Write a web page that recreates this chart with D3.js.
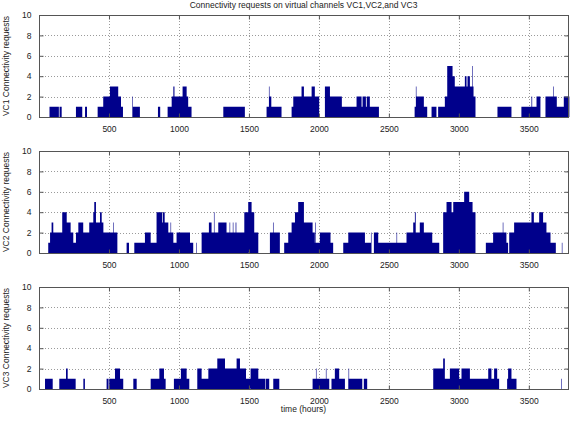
<!DOCTYPE html>
<html><head><meta charset="utf-8">
<script src="https://cdn.jsdelivr.net/npm/d3@7"></script>
<style>body{margin:0;background:#fff}svg{display:block}</style>
</head><body>
<script>
// Data: [startHour, endHour, requests]
const vc1 = [
 [75,142,1],[147,162,1],[264,309,1],[329,343,1],[419,459,1],[459,507,2],[507,566,3],[566,586,2],[586,600,1],
 [667,671,2],[671,721,1],[850,866,1],[919,948,1],[948,960,2],[960,968,3],[968,1026,2],[1026,1055,3],[1055,1066,2],[1066,1090,1],
 [1317,1471,1],[1626,1643,1],[1643,1647,3],[1647,1660,2],[1660,1733,1],[1805,1817,1],[1817,1876,2],[1876,1893,3],[1893,1948,2],
 [1948,1971,3],[1971,2002,2],[2043,2079,3],[2079,2164,2],[2164,2269,1],[2269,2305,2],[2305,2312,1],[2312,2336,2],[2336,2342,1],
 [2342,2364,2],[2364,2371,1],[2371,2429,1],[2684,2693,1],[2693,2697,3],[2697,2750,2],[2750,2774,1],[2805,2840,1],[2852,2900,1],
 [2900,2917,2],[2917,2955,5],[2955,2971,4],[2971,3043,3],[3043,3055,4],[3055,3062,3],[3062,3079,4],[3079,3096,3],[3096,3100,5],
 [3100,3105,3],[3105,3119,2],[3276,3376,1],[3447,3519,1],[3519,3524,2],[3524,3555,1],[3555,3583,2],[3619,3674,2],[3674,3678,3],
 [3678,3700,2],[3700,3750,1],[3750,3790,2]
];
const vc2 = [
 [66,79,1],[79,90,2],[90,102,3],[102,166,2],[166,198,4],[198,226,3],[226,245,2],[245,264,1],[264,281,2],[281,316,3],[316,359,2],
 [359,388,3],[388,395,4],[395,407,5],[407,436,3],[436,448,4],[448,460,3],[460,560,2],[529,533,3],[626,643,1],[681,757,1],[757,798,2],
 [798,840,1],[840,880,4],[880,885,3],[885,898,4],[898,924,3],[924,940,2],[940,944,3],[944,960,2],[960,983,1],[983,1079,2],[1079,1102,1],
 [1124,1128,1],[1162,1214,2],[1214,1233,3],[1233,1281,2],[1250,1254,4],[1281,1340,3],[1340,1467,2],[1362,1366,3],[1385,1389,3],
 [1405,1410,3],[1467,1495,4],[1495,1519,5],[1519,1538,4],[1538,1567,2],[1650,1721,2],[1672,1676,3],[1752,1781,1],[1781,1805,2],
 [1805,1829,3],[1829,1852,4],[1852,1893,5],[1893,1955,3],[1955,1971,2],[1974,1978,3],[1971,2007,1],[2007,2083,2],[2083,2102,1],
 [2174,2210,1],[2210,2329,2],[2329,2376,1],[2372,2376,2],[2393,2424,2],[2424,2626,1],[2555,2559,2],[2626,2674,2],[2674,2686,3],
 [2686,2692,4],[2692,2721,2],[2721,2750,3],[2750,2810,2],[2810,2860,1],[2888,2912,4],[2912,2948,5],[2948,2960,4],[2960,3038,5],
 [3038,3074,6],[3074,3098,5],[3098,3119,4],[3193,3245,1],[3245,3305,2],[3314,3318,3],[3305,3340,2],[3340,3352,1],[3360,3395,2],
 [3395,3519,3],[3519,3536,4],[3536,3574,3],[3574,3602,4],[3602,3626,3],[3626,3655,2],[3655,3693,1],[3736,3740,1]
];
const vc3 = [
 [43,98,1],[145,193,1],[193,205,2],[205,262,1],[317,328,1],[483,497,1],[502,543,1],[543,579,2],[579,602,1],[674,698,1],
 [798,860,1],[860,893,2],[893,905,1],[964,1014,1],[1014,1055,2],[1055,1074,1],[1131,1162,2],[1162,1210,1],[1210,1274,2],
 [1274,1329,3],[1329,1412,2],[1412,1436,3],[1436,1479,2],[1479,1512,1],[1512,1567,2],[1567,1616,1],[1620,1645,1],[1674,1717,1],
 [1955,2074,1],[1979,1983,2],[2050,2054,2],[2090,2186,1],[2114,2145,2],[2210,2310,1],[2212,2216,2],[2321,2345,1],
 [2817,2888,2],[2888,2900,3],[2900,2936,1],[2936,3002,2],[3002,3019,1],[3019,3079,2],[3079,3210,1],[3210,3233,2],[3233,3252,1],
 [3252,3274,2],[3274,3288,1],[3345,3352,1],[3352,3376,2],[3376,3412,1],[3731,3735,1]
];
const xTicks = [500,1000,1500,2000,2500,3000,3500];
const yTicks = [0,2,4,6,8,10];
const channels = ["VC1","VC2","VC3"];
const series = [vc1, vc2, vc3];
const title = "Connectivity requests on virtual channels VC1,VC2,and VC3";
const xLabel = "time (hours)";

const W = 585, H = 421;
const left = 39, right = 568, panelH = 102;
const tops = [15, 151, 287];
const font = "Liberation Sans, Arial, sans-serif";

const svg = d3.select("body").append("svg").attr("width", W).attr("height", H);
const x = d3.scaleLinear().domain([0, 3780]).range([left, right]);

svg.append("text").attr("x", (left+right)/2).attr("y", 8).attr("text-anchor","middle")
  .attr("font-family", font).attr("font-size", 8.5).attr("fill","#222").text(title);

channels.forEach((ch, i) => {
  const top = tops[i], bottom = top + panelH;
  const y = d3.scaleLinear().domain([0,10]).range([bottom, top]);
  const g = svg.append("g");
  // grid
  g.selectAll(".gx").data(xTicks).join("line")
    .attr("x1", d => Math.round(x(d))+0.5).attr("x2", d => Math.round(x(d))+0.5)
    .attr("y1", top).attr("y2", bottom)
    .attr("stroke","#9a9a9a").attr("stroke-dasharray","1,2").attr("stroke-width",1);
  g.selectAll(".gy").data(yTicks.slice(1,-1)).join("line")
    .attr("y1", d => Math.round(y(d))+0.5).attr("y2", d => Math.round(y(d))+0.5)
    .attr("x1", left).attr("x2", right)
    .attr("stroke","#9a9a9a").attr("stroke-dasharray","1,2").attr("stroke-width",1);
  // bars: all bars of a channel in one path (no seams between adjacent bars)
  const p = d3.path();
  series[i].forEach(d => p.rect(x(d[0]), y(d[2]), x(d[1]) - x(d[0]), y(0) - y(d[2])));
  g.append("path").attr("d", p.toString()).attr("fill", "#00008b");
  // box
  g.append("rect").attr("x", left+0.5).attr("y", top+0.5).attr("width", right-left).attr("height", panelH)
    .attr("fill","none").attr("stroke","#555").attr("stroke-width",1);
  // axes with inner ticks
  const ax = d3.axisBottom(x).tickValues(xTicks).tickSize(-4).tickPadding(8).tickFormat(d3.format("d"));
  const axg = g.append("g").attr("transform", `translate(0,${bottom+0.5})`).call(ax);
  const axTop = g.append("g").attr("transform", `translate(0,${top+0.5})`).call(d3.axisTop(x).tickValues(xTicks).tickSize(-4).tickFormat(""));
  const ay = d3.axisLeft(y).tickValues(yTicks).tickSize(-4).tickPadding(8);
  const ayg = g.append("g").attr("transform", `translate(${left+0.5},0)`).call(ay);
  const ayR = g.append("g").attr("transform", `translate(${right+0.5},0)`).call(d3.axisRight(y).tickValues(yTicks).tickSize(-4).tickFormat(""));
  [axg, axTop, ayg, ayR].forEach(a => {
    a.select(".domain").remove();
    a.selectAll("line").attr("stroke","#555");
    a.selectAll("text").attr("font-family", font).attr("font-size", 8.5).attr("fill","#222");
  });
  // y label
  svg.append("text").attr("transform", `translate(9,${top+panelH/2}) rotate(-90)`)
    .attr("text-anchor","middle").attr("font-family", font).attr("font-size", 8.5).attr("fill","#222")
    .text(ch + " Connectivity requests");
});

svg.append("text").attr("x", (left+right)/2).attr("y", 412).attr("text-anchor","middle")
  .attr("font-family", font).attr("font-size", 8.5).attr("fill","#222").text(xLabel);
</script>
</body></html>
